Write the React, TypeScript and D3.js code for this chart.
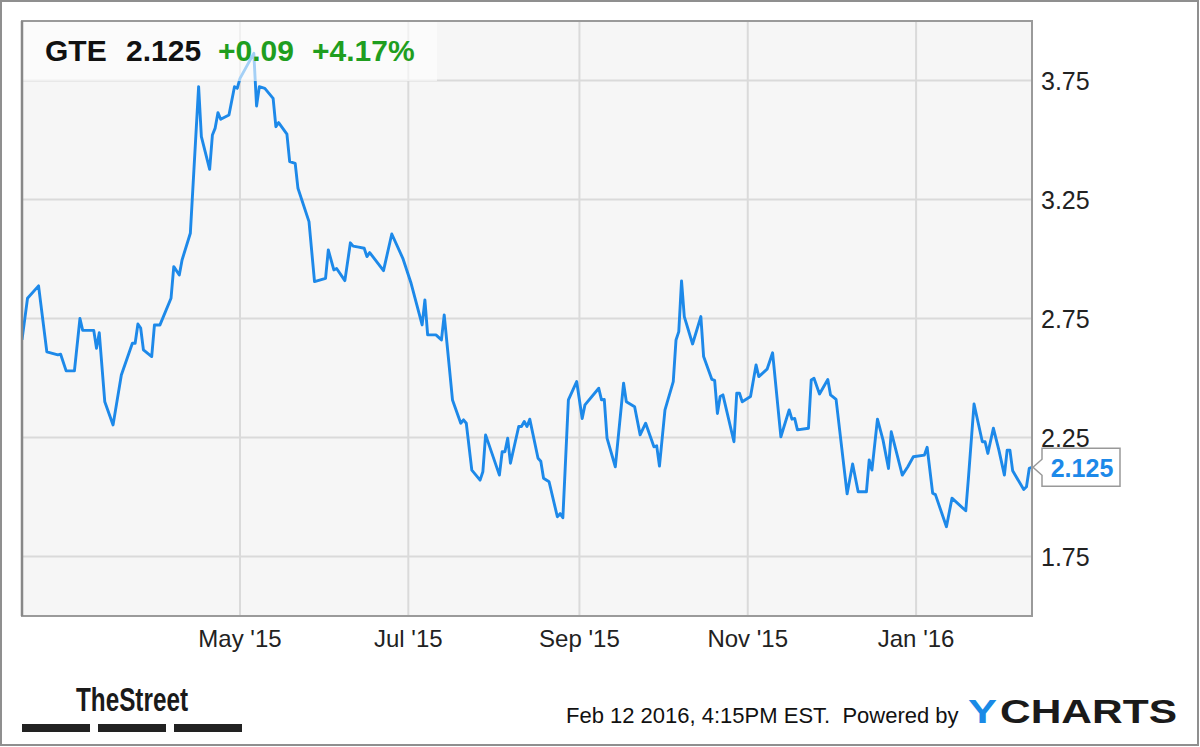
import React from "react";
import * as d3 from "d3";

// ---- data (GTE daily close, approx.) ----
const dates: string[] = [
  "2015-02-11","2015-02-13","2015-02-17","2015-02-20","2015-02-24","2015-02-25","2015-02-27","2015-03-02","2015-03-04","2015-03-05",
  "2015-03-09","2015-03-10","2015-03-11","2015-03-13","2015-03-16","2015-03-19","2015-03-23","2015-03-24","2015-03-25","2015-03-26",
  "2015-03-27","2015-03-30","2015-03-31","2015-04-02","2015-04-06","2015-04-07","2015-04-09","2015-04-10","2015-04-13","2015-04-16",
  "2015-04-17","2015-04-20","2015-04-21","2015-04-22","2015-04-23","2015-04-24","2015-04-27","2015-04-29","2015-04-30","2015-05-01",
  "2015-05-06","2015-05-07","2015-05-08","2015-05-10","2015-05-13","2015-05-14","2015-05-15","2015-05-18","2015-05-19","2015-05-21",
  "2015-05-22","2015-05-26","2015-05-28","2015-06-01","2015-06-02","2015-06-04","2015-06-05","2015-06-08","2015-06-10","2015-06-11",
  "2015-06-13","2015-06-15","2015-06-16","2015-06-17","2015-06-22","2015-06-25","2015-06-29","2015-07-02","2015-07-06","2015-07-07",
  "2015-07-08","2015-07-11","2015-07-13","2015-07-14","2015-07-15","2015-07-17","2015-07-20","2015-07-21","2015-07-22","2015-07-24",
  "2015-07-27","2015-07-28","2015-07-29","2015-08-03","2015-08-04","2015-08-05","2015-08-06","2015-08-07","2015-08-10","2015-08-11",
  "2015-08-12","2015-08-13","2015-08-14","2015-08-17","2015-08-18","2015-08-19","2015-08-21","2015-08-24","2015-08-25","2015-08-26",
  "2015-08-28","2015-08-31","2015-09-02","2015-09-03","2015-09-08","2015-09-09","2015-09-10","2015-09-11","2015-09-14","2015-09-17",
  "2015-09-18","2015-09-21","2015-09-23","2015-09-25","2015-09-28","2015-09-29","2015-09-30","2015-10-02","2015-10-05","2015-10-06",
  "2015-10-07","2015-10-08","2015-10-09","2015-10-12","2015-10-15","2015-10-16","2015-10-19","2015-10-20","2015-10-21","2015-10-22",
  "2015-10-23","2015-10-27","2015-10-28","2015-10-29","2015-10-30","2015-11-02","2015-11-04","2015-11-05","2015-11-08","2015-11-10",
  "2015-11-13","2015-11-16","2015-11-17","2015-11-18","2015-11-19","2015-11-23","2015-11-24","2015-11-25","2015-11-27","2015-11-30",
  "2015-12-01","2015-12-03","2015-12-07","2015-12-09","2015-12-11","2015-12-14","2015-12-15","2015-12-16","2015-12-18","2015-12-20",
  "2015-12-22","2015-12-23","2015-12-27","2015-12-29","2015-12-31","2016-01-04","2016-01-05","2016-01-07","2016-01-08","2016-01-12",
  "2016-01-14","2016-01-19","2016-01-20","2016-01-22","2016-01-25","2016-01-26","2016-01-27","2016-01-29","2016-01-31","2016-02-02",
  "2016-02-03","2016-02-04","2016-02-05","2016-02-06","2016-02-09","2016-02-10","2016-02-11","2016-02-12",
];

const prices: number[] = [
  2.66,2.835,2.887,2.61,2.597,2.6,2.53,2.53,2.75,2.7,
  2.7,2.625,2.69,2.4,2.303,2.513,2.646,2.646,2.727,2.71,
  2.618,2.59,2.723,2.723,2.835,2.968,2.933,2.996,3.108,3.724,
  3.514,3.377,3.521,3.55,3.615,3.587,3.605,3.724,3.717,3.759,
  3.864,3.643,3.724,3.717,3.675,3.556,3.573,3.525,3.409,3.402,
  3.297,3.157,2.905,2.919,3.038,2.954,2.96,2.909,3.068,3.054,
  3.05,3.045,3.01,3.027,2.951,3.105,3.003,2.898,2.723,2.828,
  2.681,2.681,2.66,2.765,2.646,2.408,2.31,2.324,2.31,2.113,
  2.071,2.106,2.261,2.092,2.19,2.19,2.247,2.142,2.296,2.296,
  2.317,2.296,2.327,2.163,2.15,2.079,2.064,1.917,1.93,1.913,
  2.408,2.485,2.33,2.387,2.457,2.408,2.41,2.247,2.127,2.478,
  2.4,2.379,2.261,2.31,2.211,2.215,2.13,2.366,2.485,2.66,
  2.695,2.908,2.758,2.643,2.758,2.59,2.494,2.49,2.351,2.422,
  2.429,2.232,2.436,2.436,2.4,2.422,2.555,2.506,2.537,2.606,
  2.253,2.366,2.327,2.33,2.282,2.289,2.492,2.499,2.433,2.494,
  2.429,2.41,2.013,2.139,2.022,2.022,2.156,2.113,2.327,2.24,
  2.12,2.274,2.092,2.127,2.169,2.176,2.209,2.016,2.01,1.875,
  1.995,1.942,2.085,2.391,2.232,2.232,2.183,2.289,2.197,2.092,
  2.197,2.197,2.11,2.09,2.032,2.043,2.12,2.125,
];

const yTicks: number[] = [1.75, 2.25, 2.75, 3.25, 3.75];
const xTickDates: string[] = ["2015-05-01", "2015-07-01", "2015-09-01", "2015-11-01", "2016-01-01"];
const xTickLabels: string[] = ["May '15", "Jul '15", "Sep '15", "Nov '15", "Jan '16"];
const domainDates: string[] = ["2015-02-11", "2016-02-12"];
const yDomain: number[] = [1.5, 4.0];

const ticker = "GTE";
const lastPrice = "2.125";
const change = "+0.09";
const changePct = "+4.17%";
const lastValue = 2.125;

const FONT = "'Liberation Sans', Arial, Helvetica, sans-serif";

export default function App() {
  const W = 1200, H = 747;
  const L = 22, R = 1032, T = 21, B = 616;
  const parse = d3.utcParse("%Y-%m-%d");
  const x = d3.scaleUtc().domain(domainDates.map((d) => parse(d) as Date)).range([L, R]);
  const y = d3.scaleLinear().domain(yDomain).range([B, T]);

  const data = dates.map((d, i) => ({ date: parse(d) as Date, v: prices[i] }));
  const line = d3.line<{ date: Date; v: number }>().x((d) => x(d.date)).y((d) => y(d.v));

  const ly = y(lastValue);
  const boxL = R + 10, boxR = 1120, boxT = ly - 19, boxB = ly + 19;
  const callout = `M${R + 1},${ly} L${boxL},${ly - 8} L${boxL},${boxT} L${boxR},${boxT} L${boxR},${boxB} L${boxL},${boxB} L${boxL},${ly + 8} Z`;

  return (
    <svg width={W} height={H} style={{ position: "absolute", left: 0, top: 0, background: "#fff" }} fontFamily={FONT}>
      <defs>
        <clipPath id="plotclip">
          <rect x={L} y={T} width={R - L} height={B - T} />
        </clipPath>
      </defs>
      <rect x={0} y={0} width={W} height={H} fill="#fff" />
      <rect x={1} y={1} width={W - 3} height={H - 3} fill="none" stroke="#8f8f8f" strokeWidth={2} />

      {/* plot background */}
      <rect x={L} y={T} width={R - L} height={B - T} fill="#f6f6f6" />

      {/* grid */}
      {yTicks.map((t) => (
        <line key={"gy" + t} x1={L} x2={R} y1={y(t)} y2={y(t)} stroke="#dadada" strokeWidth={2} />
      ))}
      {xTickDates.map((d) => {
        const xx = x(parse(d) as Date);
        return <line key={"gx" + d} x1={xx} x2={xx} y1={T} y2={B} stroke="#dadada" strokeWidth={2} />;
      })}

      {/* price line */}
      <path d={line(data) || ""} fill="none" stroke="#1d89e9" strokeWidth={2.9} strokeLinejoin="round" clipPath="url(#plotclip)" />

      {/* header overlay */}
      <rect x={L} y={T} width={437 - L} height={81 - T} fill="#ffffff" opacity={0.6} />
      <text x={45} y={61} fontSize={30} fontWeight="bold" fill="#111">{ticker}</text>
      <text x={126} y={61} fontSize={30} fontWeight="bold" fill="#111">{lastPrice}</text>
      <text x={218} y={61} fontSize={30} fontWeight="bold" fill="#1f9e1f">{change}</text>
      <text x={312} y={61} fontSize={30} fontWeight="bold" fill="#1f9e1f">{changePct}</text>

      {/* plot frame */}
      <rect x={L} y={T} width={R - L} height={B - T} fill="none" stroke="#9a9a9a" strokeWidth={2} />
      <line x1={L} x2={L} y1={T} y2={B} stroke="#888" strokeWidth={2.5} />

      {/* y axis labels */}
      {yTicks.map((t) => (
        <text key={"ly" + t} x={1041} y={y(t) + 9} fontSize={25} fill="#222">{t.toFixed(2)}</text>
      ))}

      {/* x axis labels */}
      {xTickDates.map((d, i) => (
        <text key={"lx" + d} x={x(parse(d) as Date)} y={647} fontSize={24} textAnchor="middle" fill="#222">
          {xTickLabels[i]}
        </text>
      ))}

      {/* last value callout */}
      <path d={callout} fill="#fff" stroke="#999" strokeWidth={1.5} />
      <text x={(boxL + boxR) / 2 + 1} y={ly + 10} fontSize={25} fontWeight="bold" textAnchor="middle" fill="#1d89e9">
        {lastPrice}
      </text>

      {/* TheStreet logo */}
      <text x={76} y={711} fontSize={33} fontWeight="bold" fill="#1a1a1a" textLength={112} lengthAdjust="spacingAndGlyphs">
        TheStreet
      </text>
      <rect x={22} y={724} width={68} height={8} fill="#222" />
      <rect x={98} y={724} width={68} height={8} fill="#222" />
      <rect x={174} y={724} width={68} height={8} fill="#222" />

      {/* footer */}
      <text x={566} y={723} fontSize={22} fill="#111" xmlSpace="preserve">
        Feb 12 2016, 4:15PM EST.  Powered by
      </text>
      <text x={968} y={723} fontSize={34} fontWeight="bold" fill="#1a8ae6" textLength={29} lengthAdjust="spacingAndGlyphs">Y</text>
      <text x={1000} y={723} fontSize={34} fontWeight="bold" fill="#1a1a1a" textLength={177} lengthAdjust="spacingAndGlyphs">CHARTS</text>
    </svg>
  );
}
